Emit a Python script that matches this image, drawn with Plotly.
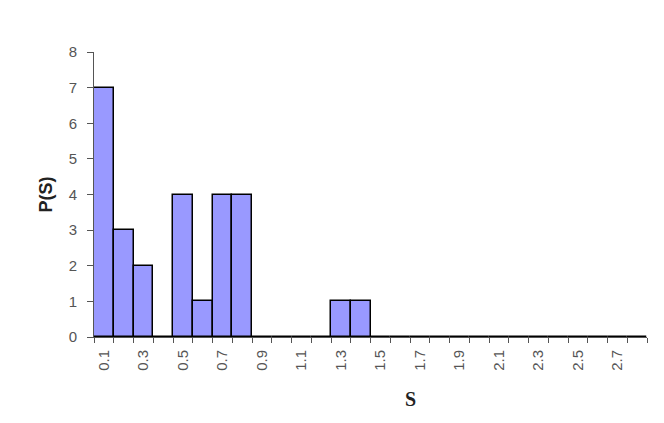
import plotly.graph_objects as go

categories = ["0.1","0.2","0.3","0.4","0.5","0.6","0.7","0.8","0.9","1.0",
              "1.1","1.2","1.3","1.4","1.5","1.6","1.7","1.8","1.9","2.0",
              "2.1","2.2","2.3","2.4","2.5","2.6","2.7","2.8"]
values = [7,3,2,0,4,1,4,4,0,0,0,0,1,1,0,0,0,0,0,0,0,0,0,0,0,0,0,0]
tick_labels = [c if i % 2 == 0 else "" for i, c in enumerate(categories)]
y_ticks = [0,1,2,3,4,5,6,7,8]

PW, PH = 553, 285

fig = go.Figure()
fig.add_trace(go.Bar(
    x=categories, y=values,
    marker=dict(color="#9999FF", line=dict(color="#000000", width=1.5)),
))
fig.update_layout(
    width=664, height=423,
    margin=dict(l=86, r=664-86-PW, t=44, b=423-44-PH),
    paper_bgcolor="white", plot_bgcolor="white",
    bargap=0, showlegend=False,
    font=dict(family="Liberation Sans, Arial, sans-serif", color="#333333"),
)
fig.update_xaxes(
    type="category", tickvals=categories, ticktext=tick_labels,
    tickson="boundaries", ticks="outside", ticklen=5, tickcolor="#555555",
    tickangle=-90, tickfont=dict(size=15, color="#555555"),
    ticklabelstandoff=6,
    showline=True, linecolor="#555555", linewidth=1,
    showgrid=False, zeroline=False, range=[-0.5, 27.5],
)
fig.update_yaxes(
    range=[0, 8], tickvals=y_ticks, ticks="outside", ticklen=6,
    tickcolor="#555555", tickfont=dict(size=15, color="#555555"),
    ticklabelstandoff=7,
    showline=True, linecolor="#555555", linewidth=1,
    showgrid=False, zeroline=False,
)
fig.add_annotation(text="<b>P(S)</b>", xref="paper", yref="paper",
                   x=-(94-45)/PW, y=0.5, xanchor="center", yanchor="middle",
                   textangle=-90, showarrow=False,
                   font=dict(size=18, color="#222222", family="Liberation Sans, Arial, sans-serif"))
fig.add_annotation(text="<b>S</b>", xref="paper", yref="paper",
                   x=(410-94)/PW, y=-(399-337)/PH, xanchor="center", yanchor="middle",
                   showarrow=False,
                   font=dict(size=20, color="#222222", family="Liberation Serif, Times New Roman, serif"))
fig.write_html("out.html")
